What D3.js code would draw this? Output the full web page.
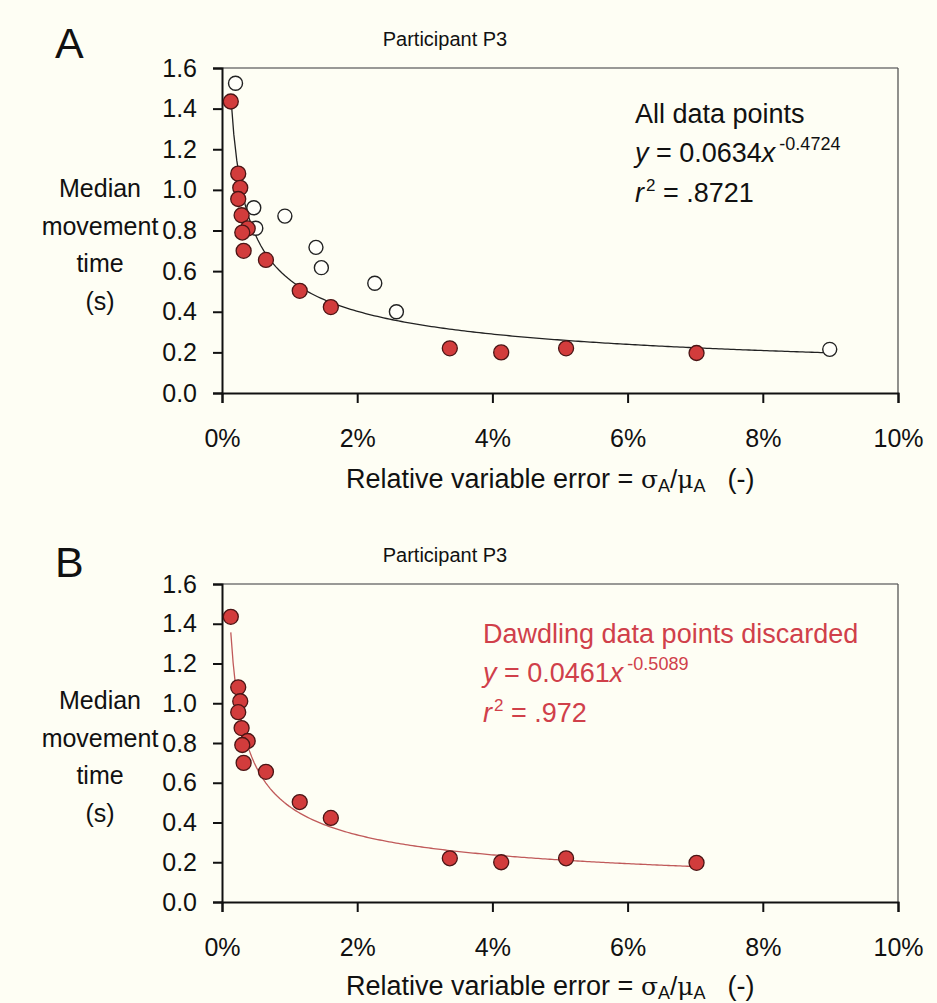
<!DOCTYPE html>
<html>
<head>
<meta charset="utf-8">
<script src="https://cdn.jsdelivr.net/npm/d3@7"></script>
<style>
  html, body { margin: 0; padding: 0; background: #fefef4; }
  svg { display: block; }
  text { font-family: "Liberation Sans", Arial, sans-serif; fill: #111; }
</style>
</head>
<body>
<svg id="chart" width="937" height="1003"></svg>
<script>
// ---- data (x in percent, y in seconds) ----
const keptX = [0.13, 0.24, 0.27, 0.24, 0.29, 0.38, 0.30, 0.32, 0.65, 1.15, 1.61, 3.37, 4.13, 5.09, 7.02];
const keptY = [1.435, 1.08, 1.01, 0.955, 0.875, 0.81, 0.79, 0.70, 0.655, 0.503, 0.423, 0.22, 0.20, 0.22, 0.197];
const dawdleX = [0.20, 0.47, 0.50, 0.93, 1.39, 1.47, 2.26, 2.58, 8.99];
const dawdleY = [1.525, 0.912, 0.811, 0.871, 0.717, 0.617, 0.540, 0.400, 0.215];
const xTicks = [0, 2, 4, 6, 8, 10];
const yTicks = [0, 0.2, 0.4, 0.6, 0.8, 1.0, 1.2, 1.4, 1.6];
const fitA = [0.0634, -0.4724];   // y = a * x^b (x as fraction)
const fitB = [0.0461, -0.5089];
const yLabelLines = ["Median", "movement", "time", "(s)"];

const svg = d3.select("#chart");
const red = "#d23c3c";
const redText = "#d0404a";

function panel(opt) {
  const g = svg.append("g");
  const x = d3.scaleLinear().domain([0, 10]).range([222, 898]);
  const y = d3.scaleLinear().domain([0, 1.6]).range([opt.bottom, opt.top]);

  // frame top/right
  g.append("line").attr("x1", 222).attr("x2", 898).attr("y1", opt.top).attr("y2", opt.top)
    .attr("stroke", "#777").attr("stroke-width", 1.3);
  g.append("line").attr("x1", 898).attr("x2", 898).attr("y1", opt.top).attr("y2", opt.bottom)
    .attr("stroke", "#555").attr("stroke-width", 1.3);

  // axes
  const xa = g.append("g").attr("transform", `translate(0,${opt.bottom})`)
    .call(d3.axisBottom(x).tickValues(xTicks).tickSize(10).tickFormat(d => d + "%"));
  const ya = g.append("g").attr("transform", "translate(222,0)")
    .call(d3.axisLeft(y).tickValues(yTicks).tickSize(9).tickPadding(16).tickFormat(d3.format(".1f")));
  [xa, ya].forEach(a => {
    a.select(".domain").attr("stroke", "#111").attr("stroke-width", 2);
    a.selectAll(".tick line").attr("stroke", "#111").attr("stroke-width", 2);
    a.selectAll(".tick text").attr("font-size", 25).attr("fill", "#111")
      .style("font-family", '"Liberation Sans", Arial, sans-serif');
  });
  xa.selectAll(".tick text").attr("y", 54).attr("dy", 0);

  // fit curve
  const xs = d3.range(0, 201).map(i => opt.fitFrom + (opt.fitTo - opt.fitFrom) * i / 200);
  const line = d3.line().x(d => x(d)).y(d => y(opt.fit[0] * Math.pow(d / 100, opt.fit[1])));
  g.append("path").datum(xs).attr("d", line).attr("fill", "none")
    .attr("stroke", opt.lineColor).attr("stroke-width", 1.3);

  // points
  if (opt.open) {
    g.selectAll(".open").data(dawdleX).enter().append("circle")
      .attr("cx", d => x(d)).attr("cy", (d, i) => y(dawdleY[i])).attr("r", 7)
      .attr("fill", "#fffffa").attr("stroke", "#222").attr("stroke-width", 1.4);
  }
  g.selectAll(".kept").data(keptX).enter().append("circle")
    .attr("cx", d => x(d)).attr("cy", (d, i) => y(keptY[i])).attr("r", 7.5)
    .attr("fill", red).attr("stroke", "#4a1515").attr("stroke-width", 1.3);

  // panel letter & title
  g.append("text").attr("x", 55).attr("y", opt.letterY).attr("font-size", 43).text(opt.letter);
  g.append("text").attr("x", 445).attr("y", opt.titleY).attr("text-anchor", "middle")
    .attr("font-size", 20).text("Participant P3");

  // y label
  yLabelLines.forEach((t, i) => {
    g.append("text").attr("x", 100).attr("y", opt.yLabY + i * 37.5).attr("text-anchor", "middle")
      .attr("font-size", 25).text(t);
  });

  // x label
  const xl = g.append("text").attr("x", 346).attr("y", opt.xLabY).attr("font-size", 27);
  xl.append("tspan").text("Relative variable error = ");
  xl.append("tspan").attr("font-family", "DejaVu Serif, serif").attr("font-size", 25).text("σ");
  xl.append("tspan").attr("font-size", 18).attr("dy", 4).text("A");
  xl.append("tspan").attr("dy", -4).attr("font-size", 26).text("/");
  xl.append("tspan").attr("font-family", "DejaVu Serif, serif").attr("font-size", 25).text("μ");
  xl.append("tspan").attr("font-size", 18).attr("dy", 4).text("A");
  xl.append("tspan").attr("dy", -4).attr("dx", 22).text("(-)");

  // annotation
  const c = opt.annoColor;
  g.append("text").attr("x", opt.annoX).attr("y", opt.annoY).attr("font-size", 27)
    .style("fill", c).text(opt.annoTitle);
  const eq = g.append("text").attr("x", opt.annoX).attr("y", opt.annoY + 39).attr("font-size", 27).style("fill", c);
  eq.append("tspan").attr("font-style", "italic").text("y");
  eq.append("tspan").text(" = " + opt.fit[0]);
  eq.append("tspan").attr("font-style", "italic").text("x");
  eq.append("tspan").attr("font-size", 18).attr("dy", -12).attr("dx", 4).text(opt.fit[1]);
  const r2 = g.append("text").attr("x", opt.annoX).attr("y", opt.annoY + 79).attr("font-size", 27).style("fill", c);
  r2.append("tspan").attr("font-style", "italic").text("r");
  r2.append("tspan").attr("font-size", 17).attr("dy", -11).attr("dx", 2).text("2");
  r2.append("tspan").attr("dy", 11).text(" = " + opt.r2);
}

panel({
  top: 68, bottom: 393, letter: "A", letterY: 58, titleY: 46, yLabY: 197, xLabY: 488,
  fit: fitA, fitFrom: 0.13, fitTo: 8.99, lineColor: "#222", open: true,
  annoX: 635, annoY: 123, annoColor: "#111", annoTitle: "All data points", r2: ".8721"
});
panel({
  top: 584, bottom: 902, letter: "B", letterY: 577, titleY: 562, yLabY: 709, xLabY: 995,
  fit: fitB, fitFrom: 0.13, fitTo: 7.02, lineColor: "#c05a5a", open: false,
  annoX: 483, annoY: 643, annoColor: redText, annoTitle: "Dawdling data points discarded", r2: ".972"
});
</script>
</body>
</html>
